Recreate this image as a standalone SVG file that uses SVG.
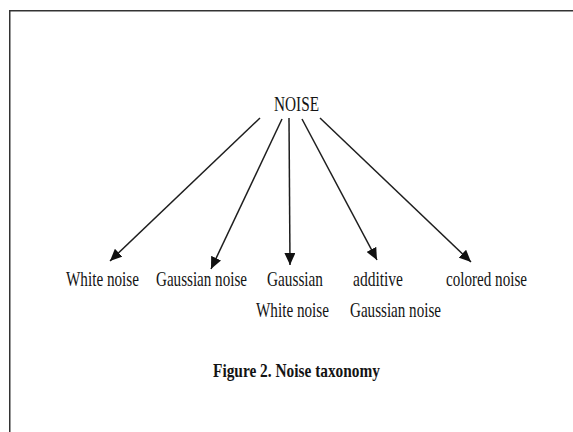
<svg xmlns="http://www.w3.org/2000/svg" width="573" height="432" viewBox="0 0 573 432">
<style>
.t{font-family:"Liberation Serif","Times New Roman",serif;font-size:22px;fill:#141414}
.c{font-family:"Liberation Serif","Times New Roman",serif;font-size:19px;font-weight:bold;fill:#141414}
.e{stroke:#1e1e1e;stroke-width:1.5;fill:none;marker-end:url(#ah)}
</style>
<defs>
<marker id="ah" markerUnits="userSpaceOnUse" markerWidth="13" markerHeight="11" refX="12" refY="5.5" orient="auto">
<path d="M0,0 L12,5.5 L0,11 Z" fill="#111"/>
</marker>
</defs>
<rect width="573" height="432" fill="#fff"/>
<path d="M9.75,432 V10.75 H573" fill="none" stroke="#333" stroke-width="1.5"/>
<g id="connectors">
<line class="e" x1="260" y1="118" x2="110" y2="261"/>
<line class="e" x1="282" y1="119" x2="211" y2="269"/>
<line class="e" x1="289" y1="118" x2="290" y2="265"/>
<line class="e" x1="302" y1="119" x2="377" y2="260"/>
<line class="e" x1="320" y1="118" x2="471" y2="262"/>
</g>
<g id="noise"><text class="t" transform="scale(0.7,1)" x="391.43" y="111" textLength="64.29" lengthAdjust="spacingAndGlyphs">NOISE</text></g>
<g id="white-noise"><text class="t" transform="scale(0.7,1)" x="94.29" y="286" textLength="104.29" lengthAdjust="spacingAndGlyphs">White noise</text></g>
<g id="gaussian-noise"><text class="t" transform="scale(0.7,1)" x="222.86" y="286" textLength="130" lengthAdjust="spacingAndGlyphs">Gaussian noise</text></g>
<g id="gaussian-white-noise">
<text class="t" transform="scale(0.7,1)" x="381.43" y="286" textLength="80" lengthAdjust="spacingAndGlyphs">Gaussian</text>
<text class="t" transform="scale(0.7,1)" x="365.71" y="317" textLength="104.29" lengthAdjust="spacingAndGlyphs">White noise</text>
</g>
<g id="additive-gaussian-noise">
<text class="t" transform="scale(0.7,1)" x="504.29" y="286" textLength="71.43" lengthAdjust="spacingAndGlyphs">additive</text>
<text class="t" transform="scale(0.7,1)" x="500" y="317" textLength="130" lengthAdjust="spacingAndGlyphs">Gaussian noise</text>
</g>
<g id="colored-noise"><text class="t" transform="scale(0.7,1)" x="637.14" y="286" textLength="115.71" lengthAdjust="spacingAndGlyphs">colored noise</text></g>
<g id="caption"><text class="c" transform="scale(0.7,1)" x="304.29" y="377" textLength="238.57" lengthAdjust="spacingAndGlyphs">Figure 2. Noise taxonomy</text></g>
</svg>
